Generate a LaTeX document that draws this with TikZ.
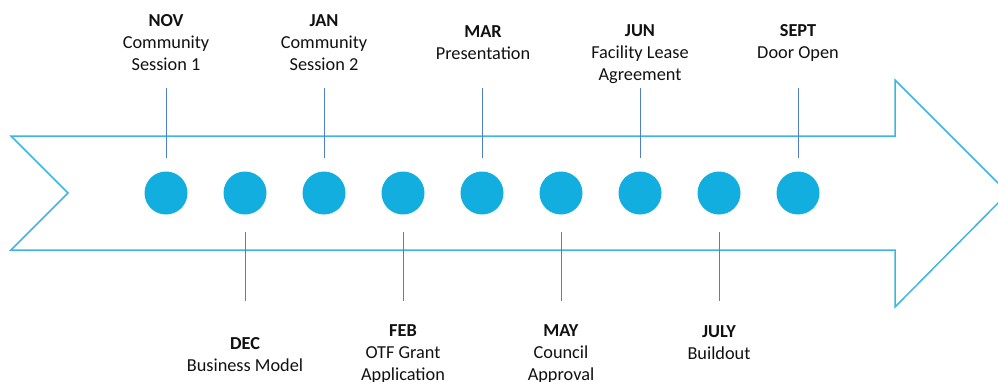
\documentclass[tikz,border=0pt]{standalone}
\usepackage{fontspec}
\setmainfont{Carlito}
\definecolor{arrowblue}{HTML}{3DB5E6}
\definecolor{dotblue}{HTML}{12AEDF}
\definecolor{tickblue}{HTML}{4F7FCC}
\definecolor{txt}{HTML}{111111}
\begin{document}
\begin{tikzpicture}[x=1pt,y=-1pt,
  arrowshape/.style={draw=arrowblue,line width=1.5pt,line join=miter},
  dot/.style={circle,fill=dotblue,minimum size=43pt,inner sep=0pt},
  tick/.style={draw=tickblue,line width=1pt},
  lbl/.style={align=center,text=txt,font=\fontsize{18.3}{22}\selectfont,inner sep=0pt}]
\useasboundingbox (0,0) rectangle (998,381);
\clip (0,0) rectangle (998,381);
\draw[arrowshape] (11,136) -- (895,136) -- (895,80) -- (1008,193) -- (895,307) -- (895,250) -- (11,250) -- (68,193) -- cycle;
\foreach \i/\x in {1/166,2/245,3/324,4/403,5/482,6/561,7/640,8/719,9/798}{
  \node[dot] (c\i) at (\x,193) {};
}
% top ticks
\foreach \i/\x in {1/166,3/324,5/482,7/640,9/798}{
  \coordinate (ta\i) at (\x,88);
  \coordinate (tb\i) at (\x,158);
  \draw[tick] (ta\i) -- (tb\i);
}
% bottom ticks
\foreach \i/\x in {2/245,4/403,6/561,8/719}{
  \coordinate (ba\i) at (\x,232);
  \coordinate (bb\i) at (\x,301);
  \draw[tick] (ba\i) -- (bb\i);
}
\node[lbl] (l1) at (166,42.5) {\textbf{NOV}\\Community\\Session 1};
\node[lbl] (l3) at (324,42.5) {\textbf{JAN}\\Community\\Session 2};
\node[lbl] (l5) at (483,43) {\textbf{MAR}\\Presentation};
\node[lbl] (l7) at (640,54) {\textbf{JUN}\\Facility Lease\\Agreement};
\node[lbl] (l9) at (798,43) {\textbf{SEPT}\\Door Open};
\node[lbl] (l2) at (245,355) {\textbf{DEC}\\Business Model};
\node[lbl] (l4) at (403,354) {\textbf{FEB}\\OTF Grant\\Application};
\node[lbl] (l6) at (561,354) {\textbf{MAY}\\Council\\Approval};
\node[lbl] (l8) at (719,343) {\textbf{JULY}\\Buildout};
\end{tikzpicture}
\end{document}
